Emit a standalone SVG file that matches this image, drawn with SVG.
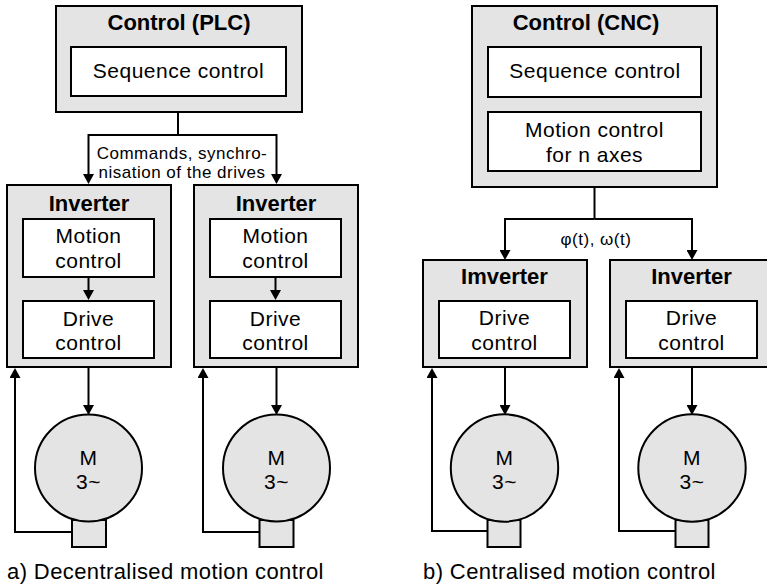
<svg xmlns="http://www.w3.org/2000/svg" width="767" height="585" viewBox="0 0 767 585">
  <style>
    .outer { fill: #e4e4e4; stroke: #000; stroke-width: 2; }
    .inner { fill: #fff; stroke: #000; stroke-width: 2; }
    .motor { fill: #e4e4e4; stroke: #000; stroke-width: 2; }
    .title { font-family: "Liberation Sans", Arial, sans-serif; font-size: 22px; font-weight: bold; text-anchor: middle; fill: #000; }
    .txt { font-family: "Liberation Sans", Arial, sans-serif; font-size: 21px; letter-spacing: 0.5px; text-anchor: middle; fill: #000; }
    .lbl { font-family: "Liberation Sans", Arial, sans-serif; font-size: 17px; letter-spacing: 0.5px; text-anchor: middle; fill: #000; }
    .cap { font-family: "Liberation Sans", Arial, sans-serif; font-size: 22px; letter-spacing: 0.4px; fill: #000; }
    .wire { fill: none; stroke: #000; stroke-width: 2; stroke-linejoin: miter; }
    .arr { marker-end: url(#head); }
  </style>
  <defs>
    <marker id="head" viewBox="0 0 10 11" markerUnits="userSpaceOnUse" markerWidth="10" markerHeight="11" refX="6" refY="5.5" orient="auto">
      <path d="M0,0 L10,5.5 L0,11 Z" fill="#000"/>
    </marker>
  </defs>

  <!-- a) decentralised: PLC -->
  <g id="plc">
    <rect class="outer" x="56" y="6" width="246" height="106"/>
    <text class="title" x="179" y="30">Control (PLC)</text>
    <rect class="inner" x="71" y="47" width="215" height="49"/>
    <text class="txt" x="178.5" y="78">Sequence control</text>
  </g>

  <g id="inverter-a1">
    <rect class="outer" x="7" y="185" width="164" height="182"/>
    <text class="title" x="89" y="211">Inverter</text>
    <rect class="inner" x="23" y="219" width="131" height="58"/>
    <text class="txt" x="88.5" y="243">Motion</text>
    <text class="txt" x="88.5" y="268">control</text>
    <rect class="inner" x="23" y="301" width="131" height="57"/>
    <text class="txt" x="88.5" y="326">Drive</text>
    <text class="txt" x="88.5" y="350">control</text>
  </g>

  <g id="inverter-a2">
    <rect class="outer" x="194" y="185" width="164" height="182"/>
    <text class="title" x="276" y="211">Inverter</text>
    <rect class="inner" x="210" y="219" width="131" height="58"/>
    <text class="txt" x="275.5" y="243">Motion</text>
    <text class="txt" x="275.5" y="268">control</text>
    <rect class="inner" x="210" y="301" width="131" height="57"/>
    <text class="txt" x="275.5" y="326">Drive</text>
    <text class="txt" x="275.5" y="350">control</text>
  </g>

  <g id="motor-a1">
    <rect class="motor" x="72" y="520" width="34" height="27"/>
    <circle class="motor" cx="88.5" cy="468" r="53.5"/>
    <text class="txt" x="88.5" y="465">M</text>
    <text class="txt" x="88.5" y="489">3~</text>
  </g>

  <g id="motor-a2">
    <rect class="motor" x="259.5" y="520" width="34" height="27"/>
    <circle class="motor" cx="276.5" cy="468" r="53.5"/>
    <text class="txt" x="276.5" y="465">M</text>
    <text class="txt" x="276.5" y="489">3~</text>
  </g>

  <!-- b) centralised: CNC -->
  <g id="cnc">
    <rect class="outer" x="472" y="6" width="245" height="181"/>
    <text class="title" x="586" y="30">Control (CNC)</text>
    <rect class="inner" x="488" y="47" width="213" height="50"/>
    <text class="txt" x="595" y="77.5">Sequence control</text>
    <rect class="inner" x="488" y="112" width="213" height="59"/>
    <text class="txt" x="594.5" y="137">Motion control</text>
    <text class="txt" x="594.5" y="162">for n axes</text>
  </g>

  <g id="inverter-b1">
    <rect class="outer" x="423" y="260" width="164" height="107"/>
    <text class="title" x="504.5" y="284">Imverter</text>
    <rect class="inner" x="439" y="301" width="131" height="57"/>
    <text class="txt" x="504.5" y="325">Drive</text>
    <text class="txt" x="504.5" y="350">control</text>
  </g>

  <g id="inverter-b2">
    <rect class="outer" x="610" y="260" width="164" height="107"/>
    <text class="title" x="691.5" y="284">Inverter</text>
    <rect class="inner" x="626" y="301" width="131" height="57"/>
    <text class="txt" x="691.5" y="325">Drive</text>
    <text class="txt" x="691.5" y="350">control</text>
  </g>

  <g id="motor-b1">
    <rect class="motor" x="487.5" y="520" width="33" height="27"/>
    <circle class="motor" cx="504.5" cy="468" r="53.7"/>
    <text class="txt" x="504.5" y="465">M</text>
    <text class="txt" x="504.5" y="489">3~</text>
  </g>

  <g id="motor-b2">
    <rect class="motor" x="675.5" y="520" width="33" height="27"/>
    <circle class="motor" cx="692" cy="468" r="53.7"/>
    <text class="txt" x="692" y="465">M</text>
    <text class="txt" x="692" y="489">3~</text>
  </g>

  <!-- signal and feedback lines -->
  <g id="connectors">
    <path class="wire" d="M178,112 V135"/>
    <path class="wire arr" d="M178,135 H88.5 V180"/>
    <path class="wire arr" d="M178,135 H276.5 V180"/>
    <path class="wire arr" d="M88.5,277 V296"/>
    <path class="wire arr" d="M275.5,277 V296"/>
    <path class="wire arr" d="M88.5,367 V411"/>
    <path class="wire arr" d="M276.5,367 V411"/>
    <path class="wire arr" d="M72,532 H15 V372"/>
    <path class="wire arr" d="M259.5,532 H203 V372"/>

    <path class="wire" d="M594.5,187 V219"/>
    <path class="wire arr" d="M594.5,219 H505 V256"/>
    <path class="wire arr" d="M594.5,219 H692 V256"/>
    <path class="wire arr" d="M505,367 V411"/>
    <path class="wire arr" d="M692,367 V411"/>
    <path class="wire arr" d="M487.5,531 H432 V372"/>
    <path class="wire arr" d="M675.5,531 H619 V372"/>

    <text class="lbl" x="182" y="159">Commands, synchro-</text>
    <text class="lbl" x="182" y="177.5">nisation of the drives</text>
    <text class="lbl" x="596" y="245">φ(t), ω(t)</text>
  </g>

  <text class="cap" x="7" y="579">a) Decentralised motion control</text>
  <text class="cap" x="423" y="579">b) Centralised motion control</text>
</svg>
